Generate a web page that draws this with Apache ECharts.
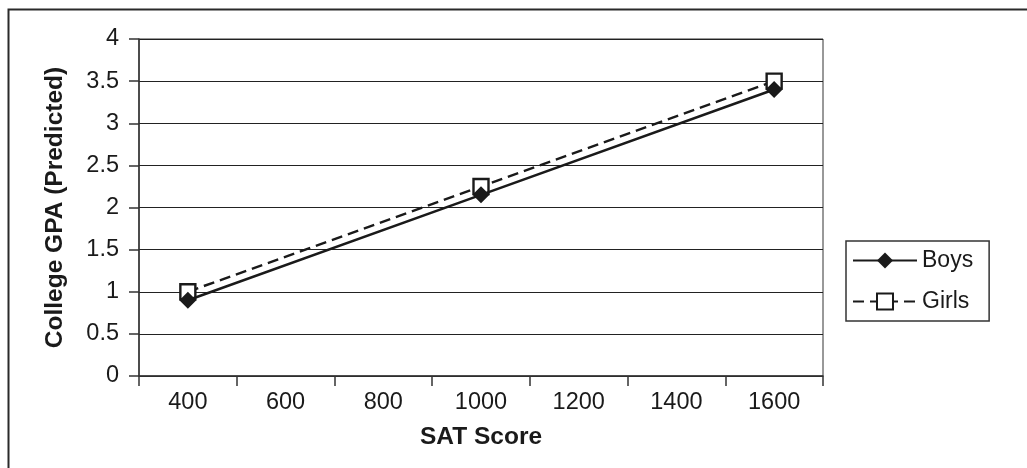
<!DOCTYPE html>
<html>
<head>
<meta charset="utf-8">
<script src="https://cdn.jsdelivr.net/npm/echarts@6/dist/echarts.min.js"></script>
<style>
html,body{margin:0;padding:0;background:#fff;}
#chart{width:1027px;height:468px;}
</style>
</head>
<body>
<div id="chart"></div>
<script>
const categories = ['400', '600', '800', '1000', '1200', '1400', '1600'];
const boys = [0.9, null, null, 2.15, null, null, 3.4];
const girls = [1.0, null, null, 2.25, null, null, 3.5];
const seriesNames = ['Boys', 'Girls'];
const xTitle = 'SAT Score';
const yTitle = 'College GPA (Predicted)';

const FONT = '"Liberation Sans", Arial, sans-serif';
const chart = echarts.init(document.getElementById('chart'), null, {renderer: 'canvas'});
chart.setOption({
  animation: false,
  backgroundColor: '#fff',
  textStyle: {fontFamily: FONT},
  graphic: [{
    type: 'rect',
    shape: {x: 8.5, y: 9.5, width: 1200, height: 1000},
    style: {fill: 'none', stroke: '#2a2a2a', lineWidth: 2},
    silent: true, z: -1
  }],
  grid: {
    left: 139, top: 39, right: 204, bottom: 92,
    show: true, borderColor: '#333', borderWidth: 1, backgroundColor: 'transparent'
  },
  legend: {
    orient: 'vertical',
    left: 846, top: 241,
    data: seriesNames,
    itemWidth: 64, itemHeight: 20, itemGap: 18, itemTextGap: 11,
    padding: [8, 16, 8, 6],
    borderColor: '#333', borderWidth: 1.5,
    textStyle: {fontSize: 23, color: '#1a1a1a', fontFamily: FONT}
  },
  xAxis: {
    type: 'category',
    data: categories,
    boundaryGap: true,
    name: xTitle,
    nameLocation: 'middle',
    nameGap: 49,
    nameTextStyle: {fontSize: 24.5, fontWeight: 'bold', color: '#1a1a1a', fontFamily: FONT},
    axisLine: {lineStyle: {color: '#333', width: 1.5}},
    axisTick: {show: true, length: 10, inside: false, lineStyle: {color: '#333', width: 1.5}},
    axisLabel: {fontSize: 23.5, color: '#1a1a1a', margin: 15, interval: 0, fontFamily: FONT},
    splitLine: {show: false}
  },
  yAxis: {
    type: 'value',
    min: 0, max: 4, interval: 0.5,
    name: yTitle,
    nameLocation: 'middle',
    nameGap: 71,
    nameTextStyle: {fontSize: 24.5, fontWeight: 'bold', color: '#1a1a1a', fontFamily: FONT},
    axisLine: {show: true, lineStyle: {color: '#333', width: 1.5}},
    axisTick: {show: true, length: 10, inside: false, lineStyle: {color: '#333', width: 1.5}},
    axisLabel: {fontSize: 23.5, color: '#1a1a1a', margin: 20, fontFamily: FONT},
    splitLine: {show: true, lineStyle: {color: '#222', width: 1}}
  },
  series: [
    {
      name: 'Boys',
      type: 'line',
      data: boys,
      connectNulls: true,
      z: 4,
      symbol: 'diamond',
      symbolSize: 17,
      showAllSymbol: true,
      lineStyle: {color: '#1a1a1a', width: 2.6, type: 'solid'},
      itemStyle: {color: '#1a1a1a', borderColor: '#1a1a1a', borderWidth: 0}
    },
    {
      name: 'Girls',
      type: 'line',
      data: girls,
      connectNulls: true,
      z: 3,
      symbol: 'rect',
      symbolSize: 15,
      showAllSymbol: true,
      lineStyle: {color: '#1a1a1a', width: 2.4, type: [11, 6]},
      itemStyle: {color: '#fff', borderColor: '#1a1a1a', borderWidth: 2.4}
    }
  ]
});
</script>
</body>
</html>
